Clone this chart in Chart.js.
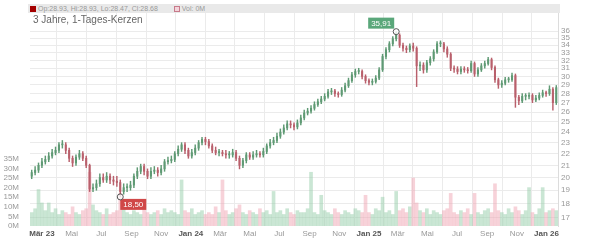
<!DOCTYPE html>
<html>
<head>
<meta charset="utf-8">
<script src="https://cdn.jsdelivr.net/npm/chart.js@4.4.1/dist/chart.umd.min.js"></script>
<style>
  body { margin: 0; background: #fff; font-family: "Liberation Sans", Arial, sans-serif; }
  #wrap { position: relative; width: 600px; height: 240px; }
  #head { position: absolute; left: 28px; top: 4px; width: 532px; height: 9px; background: #e9e9e9; font-size: 7px; line-height: 9px; color: #999; white-space: nowrap; }
  #head .sq { display: inline-block; width: 6px; height: 6px; vertical-align: -1px; margin: 0 2px 0 2px; }
  #title { position: absolute; left: 33px; top: 14px; font-size: 10px; color: #666; }
</style>
</head>
<body>
<div id="wrap">
  <canvas id="chart" width="600" height="240"></canvas>
  <div id="head"><span class="sq" style="background:#a40000"></span>Op:28.93, Hi:28.93, Lo:28.47, Cl:28.68 <span class="sq" style="box-sizing:border-box;border:1px solid #c77a8a;background:#f3d3da;margin-left:14px"></span>Vol: 0M</div>
  <div id="title">3 Jahre, 1-Tages-Kerzen</div>
</div>
<script>
// weekly candles, first one in the week of 2023-02-08
const firstWeek = '2023-02-08';

const opens = [20.1,20.4,20.6,21.0,21.3,21.5,21.8,22.1,22.3,22.8, 22.8,22.3,21.6,21.2,21.7,22.0,21.6,21.0,19.1,19.2,
  19.5,20.0,19.8,20.1,19.8,19.7,19.6,18.9,19.2,19.2, 19.4,20.1,20.5,20.9,20.5,20.1,20.5,20.6,20.4,20.7,
  21.3,21.4,21.5,22.0,22.4,22.8,22.3,21.8,22.1,22.5, 23.0,23.3,23.1,22.7,22.3,22.1,22.1,22.0,21.9,21.9,
  22.1,21.6,21.0,21.4,21.9,21.7,21.9,22.0,21.9,22.2, 22.7,23.0,23.2,23.6,24.0,24.4,24.8,24.7,24.5,24.9,
  25.4,25.9,26.1,26.4,26.8,27.1,27.4,27.7,28.2,28.3, 28.0,27.9,28.4,28.9,29.5,30.2,30.6,30.6,30.0,29.5,
  29.3,29.4,29.8,30.8,32.5,33.4,34.2,34.9,35.4,34.0, 33.6,33.4,33.9,33.6,31.3,31.4,30.8,31.7,32.2,33.1,
  34.2,34.2,33.5,32.8,31.0,30.9,30.6,30.9,30.8,30.7, 31.6,30.3,30.8,31.3,31.6,32.1,31.1,29.6,29.0,29.2,
  29.6,29.6,30.1,27.6,27.2,27.7,27.7,27.8,27.3,27.5, 27.8,28.1,28.0,28.5,27.0];
const highs = [20.6,20.9,21.2,21.6,21.8,22.1,22.4,22.6,23.0,23.2, 23.0,22.5,21.8,21.9,22.3,22.2,21.8,21.1,19.5,19.8,
  20.3,20.3,20.4,20.3,20.1,20.1,19.8,19.5,19.5,19.7, 20.3,20.8,21.1,21.1,20.7,20.8,20.9,20.8,21.0,21.5,
  21.7,21.8,22.2,22.7,23.0,23.0,22.5,22.4,22.8,23.2, 23.5,23.5,23.3,22.9,22.6,22.4,22.3,22.3,22.2,22.4,
  22.3,21.8,21.6,22.1,22.1,22.2,22.3,22.2,22.5,22.9, 23.3,23.5,23.9,24.3,24.7,25.1,25.1,24.9,25.2,25.7,
  26.2,26.4,26.7,27.1,27.4,27.7,28.0,28.5,28.6,28.5, 28.2,28.7,29.2,29.8,30.5,30.9,31.0,30.8,30.2,29.7,
  29.7,30.1,31.1,32.8,33.7,34.5,35.2,35.91,35.6,34.3, 33.9,34.2,34.3,33.8,31.8,31.7,32.0,32.5,33.4,34.5,
  34.6,34.4,33.8,33.0,31.3,31.2,31.2,31.2,31.1,31.9, 31.8,31.1,31.6,31.9,32.4,32.3,31.3,29.8,29.5,29.9,
  29.9,30.4,30.3,27.8,28.0,28.0,28.1,28.0,27.8,28.1, 28.4,28.3,28.9,28.7,28.93];
const lows = [19.9,20.2,20.4,20.8,21.1,21.3,21.6,21.9,22.1,22.5, 22.0,21.3,20.9,21.0,21.5,21.4,20.8,18.9,18.9,19.0,
  19.3,19.6,19.6,19.5,19.4,19.3,18.5,18.7,18.9,19.0, 19.2,19.9,20.3,20.2,19.9,19.9,20.3,20.1,20.2,20.5,
  21.1,21.2,21.3,21.8,22.2,22.0,21.6,21.6,21.9,22.3, 22.8,22.8,22.5,22.1,21.9,21.8,21.8,21.6,21.6,21.7,
  21.4,20.7,20.8,21.2,21.5,21.5,21.7,21.7,21.7,22.0, 22.5,22.8,23.0,23.4,23.8,24.2,24.4,24.2,24.3,24.7,
  25.2,25.7,25.9,26.2,26.6,26.9,27.2,27.5,27.9,27.7, 27.6,27.7,28.2,28.7,29.3,29.9,30.3,29.7,29.2,29.0,
  29.0,29.2,29.6,30.6,32.2,33.1,33.9,34.6,33.7,33.2, 33.0,33.1,33.2,28.8,30.7,30.4,30.5,31.4,31.9,32.9,
  33.8,33.1,32.4,30.7,30.5,30.3,30.3,30.5,30.4,30.5, 30.0,30.0,30.6,31.0,31.4,30.8,29.3,28.6,28.7,29.0,
  29.3,29.4,26.5,26.8,27.0,27.3,27.4,27.0,27.1,27.3, 27.6,27.7,27.8,26.2,26.8];
const closes = [20.4,20.6,21.0,21.3,21.5,21.8,22.1,22.3,22.8,22.8, 22.3,21.6,21.2,21.7,22.0,21.6,21.0,19.1,19.2,19.5,
  20.0,19.8,20.1,19.8,19.7,19.6,18.9,19.2,19.2,19.4, 20.1,20.5,20.9,20.5,20.1,20.5,20.6,20.4,20.7,21.3,
  21.4,21.5,22.0,22.4,22.8,22.3,21.8,22.1,22.5,23.0, 23.3,23.1,22.7,22.3,22.1,22.1,22.0,21.9,21.9,22.1,
  21.6,21.0,21.4,21.9,21.7,21.9,22.0,21.9,22.2,22.7, 23.0,23.2,23.6,24.0,24.4,24.8,24.7,24.5,24.9,25.4,
  25.9,26.1,26.4,26.8,27.1,27.4,27.7,28.2,28.3,28.0, 27.9,28.4,28.9,29.5,30.2,30.6,30.6,30.0,29.5,29.3,
  29.4,29.8,30.8,32.5,33.4,34.2,34.9,35.4,34.0,33.6, 33.4,33.9,33.6,31.3,31.4,30.8,31.7,32.2,33.1,34.2,
  34.2,33.5,32.8,31.0,30.9,30.6,30.9,30.8,30.7,31.6, 30.3,30.8,31.3,31.6,32.1,31.1,29.6,29.0,29.2,29.6,
  29.6,30.1,27.6,27.2,27.7,27.7,27.8,27.3,27.5,27.8, 28.1,28.0,28.5,27.0,28.68];
// volume in millions
const volumes = [7,9,19,12,8,12,7,9,6,8, 7,6,10,7,6,8,9,28,11,8,
  7,6,9,6,7,8,17,9,7,6, 8,7,6,10,7,6,7,8,6,9,
  7,8,7,6,24,8,7,9,6,7, 8,6,7,6,10,7,24,8,6,7,
  9,11,7,6,8,7,6,9,7,8, 6,18,7,8,6,9,7,6,8,7,
  7,9,28,7,6,16,8,7,6,9, 7,6,8,7,6,9,8,7,16,7,
  6,9,8,15,7,8,6,18,8,9, 7,10,25,12,8,7,9,6,8,7,
  6,8,9,17,7,6,8,7,9,6, 17,7,6,8,9,7,22,8,7,6,
  9,7,10,8,6,8,20,7,6,9, 20,7,8,9,8];

const monthDates = ['2023-03-01','2023-05-01','2023-07-01','2023-09-01','2023-11-01','2024-01-01',
  '2024-03-01','2024-05-01','2024-07-01','2024-09-01','2024-11-01','2025-01-01',
  '2025-03-01','2025-05-01','2025-07-01','2025-09-01','2025-11-01','2026-01-01'];
const monthLabels = ['Mär 23','Mai','Jul','Sep','Nov','Jan 24','Mär','Mai','Jul','Sep','Nov','Jan 25',
  'Mär','Mai','Jul','Sep','Nov','Jan 26'];
const priceTicks = [17,18,19,20,21,22,23,24,25,26,27,28,29,30,31,32,33,34,35,36];
const volTicks = [0,5,10,15,20,25,30,35];

const upCol = '#5f9a74', downCol = '#b9606c';
const upVol = 'rgba(150,205,170,0.5)', downVol = 'rgba(240,165,180,0.5)';
const fontFam = '"Liberation Sans", Arial, sans-serif';

function weekPos(d) {
  return (Date.parse(d) - Date.parse(firstWeek)) / (7 * 86400000);
}

const isUp = closes.map((c, i) => c >= opens[i]);

const markers = {
  id: 'markers',
  afterDatasetsDraw(chart) {
    const ctx = chart.ctx, xs = chart.scales.x, ys = chart.scales.y;
    let hi = 0, lo = 0;
    for (let i = 1; i < highs.length; i++) {
      if (highs[i] > highs[hi]) hi = i;
      if (lows[i] < lows[lo]) lo = i;
    }
    const draw = (i, val, col, above) => {
      const px = xs.getPixelForValue(i), py = ys.getPixelForValue(val);
      const txt = val.toFixed(2).replace('.', ',');
      ctx.save();
      ctx.font = '8px ' + fontFam;
      const w = ctx.measureText(txt).width + 6, h = 11;
      const bx = above ? px - w - 2 : px, by = above ? py - h - 3 : py + 2;
      ctx.fillStyle = col;
      ctx.fillRect(bx, by, w, h);
      ctx.fillStyle = '#fff';
      ctx.textBaseline = 'middle';
      ctx.fillText(txt, bx + 3, by + h / 2 + 0.5);
      ctx.beginPath();
      ctx.arc(px, py, 3, 0, Math.PI * 2);
      ctx.fillStyle = 'rgba(255,255,255,0.8)';
      ctx.fill();
      ctx.strokeStyle = '#555';
      ctx.lineWidth = 1;
      ctx.stroke();
      ctx.restore();
    };
    draw(hi, highs[hi], '#5aa77a', true);
    draw(lo, lows[lo], '#d04848', false);
  }
};

new Chart(document.getElementById('chart'), {
  type: 'bar',
  data: {
    datasets: [
      {
        label: 'body',
        data: closes.map((c, i) => ({ x: i, y: [opens[i], c] })),
        backgroundColor: isUp.map(u => u ? upCol : downCol),
        barThickness: 1.4,
        minBarLength: 1,
        grouped: false,
        yAxisID: 'y',
        order: 1
      },
      {
        label: 'wick',
        data: closes.map((c, i) => ({ x: i, y: [lows[i], highs[i]] })),
        backgroundColor: isUp.map(u => u ? upCol : downCol),
        barThickness: 0.8,
        grouped: false,
        yAxisID: 'y',
        order: 2
      },
      {
        label: 'Vol',
        data: volumes.map((v, i) => ({ x: i, y: v })),
        backgroundColor: isUp.map(u => u ? upVol : downVol),
        barThickness: 3,
        grouped: false,
        yAxisID: 'yv',
        order: 3
      }
    ]
  },
  options: {
    responsive: false,
    animation: false,
    layout: { padding: { top: 13 } },
    plugins: { legend: { display: false }, tooltip: { enabled: false } },
    scales: {
      x: {
        type: 'linear',
        min: -0.5,
        max: closes.length - 0.5,
        offset: false,
        afterBuildTicks: s => { s.ticks = monthDates.map(d => ({ value: weekPos(d) })); },
        afterFit: s => { s.height = 14; },
        grid: { color: '#ebebeb', drawTicks: false },
        border: { display: false },
        ticks: {
          autoSkip: false,
          maxRotation: 0,
          padding: 3,
          callback: (v, idx) => monthLabels[idx],
          color: c => monthLabels[c.index] && monthLabels[c.index].includes(' ') ? '#555' : '#999',
          font: c => ({ family: fontFam, size: 8, weight: monthLabels[c.index] && monthLabels[c.index].includes(' ') ? 'bold' : 'normal' })
        }
      },
      y: {
        type: 'logarithmic',
        position: 'right',
        min: 16.46,
        max: 38.7,
        afterBuildTicks: s => { s.ticks = priceTicks.map(v => ({ value: v })); },
        afterFit: s => { s.width = 42; },
        grid: { color: '#ebebeb', drawTicks: false },
        border: { display: true, color: '#dcdcdc' },
        ticks: { autoSkip: false, padding: 3, color: '#999', font: { family: fontFam, size: 8 }, callback: v => String(v) }
      },
      yv: {
        type: 'linear',
        position: 'left',
        min: 0,
        max: 111,
        afterBuildTicks: s => { s.ticks = volTicks.map(v => ({ value: v })); },
        afterFit: s => { s.width = 30; },
        grid: { display: false },
        border: { display: false },
        ticks: { autoSkip: false, padding: 3, color: '#999', font: { family: fontFam, size: 8 }, callback: v => v + 'M' }
      }
    }
  },
  plugins: [markers]
});
</script>
</body>
</html>
